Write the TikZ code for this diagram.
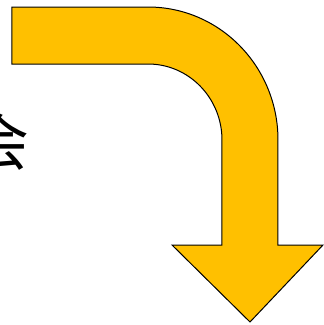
\documentclass[tikz,border=0pt]{standalone}
\usepackage{fontspec}
\newfontfamily\cjk{Noto Sans CJK SC}
\usepackage{tikz}

\definecolor{bendfill}{HTML}{FFC000}

\begin{document}
\begin{tikzpicture}[
      x=1pt, y=1pt,
      bent/.style={draw=black, line width=1pt, fill=bendfill, line join=miter},
      glyph/.style={font=\cjk\fontsize{62pt}{62pt}\selectfont, inner sep=0pt},
    ]
    \useasboundingbox (0,0) rectangle (324,325);
    \clip (0,0) rectangle (324,325);
    \node[glyph] (hui) at (-1,183) {会};
    \draw[bent] (12,318) -- (148,318)
      arc[start angle=90, end angle=0, x radius=130, y radius=133]
      -- (278,80) -- (323,80) -- (250,3) -- (172,80) -- (222,80) -- (222,185)
      arc[start angle=0, end angle=90, x radius=74, y radius=76]
      -- (12,261) -- cycle;
  \end{tikzpicture}
\end{document}
